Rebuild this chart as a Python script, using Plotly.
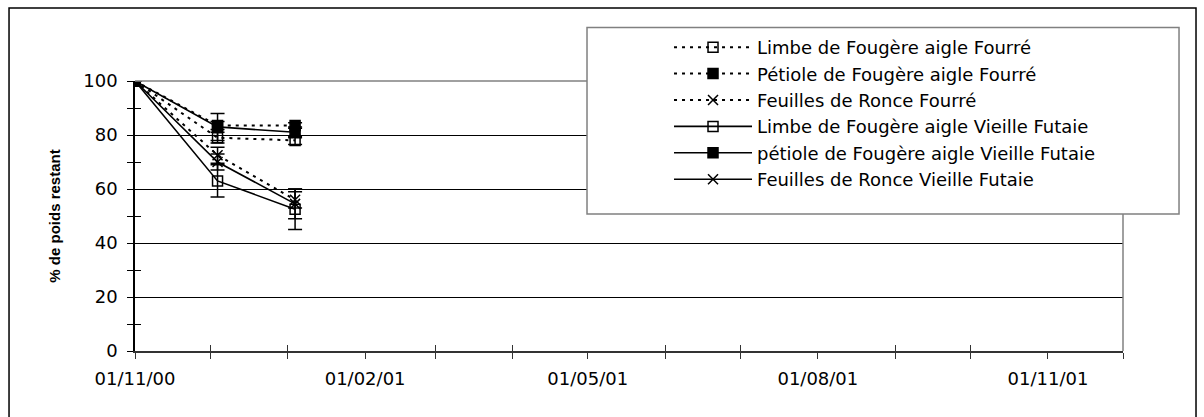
import plotly.graph_objects as go
import pandas as pd

# ---- data ----
dates = ["2000-11-01", "2000-12-04", "2001-01-04"]

series_names = [
    "Limbe de Fougère aigle Fourré",
    "Pétiole de Fougère aigle Fourré",
    "Feuilles de Ronce Fourré",
    "Limbe de Fougère aigle Vieille Futaie",
    "pétiole de Fougère aigle Vieille Futaie",
    "Feuilles de Ronce Vieille Futaie",
]
limbe_fourre = [100, 79, 78]
limbe_fourre_err = [0, 2, 1.5]
petiole_fourre = [100, 83.5, 83.5]
petiole_fourre_err = [0, 1.5, 1]
ronce_fourre = [100, 72.5, 56]
ronce_fourre_err = [0, 3, 3]
limbe_vf = [100, 63, 52.5]
limbe_vf_err = [0, 6, 7.5]
petiole_vf = [100, 83, 81]
petiole_vf_err = [0, 5, 2]
ronce_vf = [100, 70, 54.5]
ronce_vf_err = [0, 3, 5.5]

y_ticks = [0, 20, 40, 60, 80, 100]
x_range = ["2000-11-01", "2001-12-01"]

values = [limbe_fourre, petiole_fourre, ronce_fourre, limbe_vf, petiole_vf, ronce_vf]
errors = [limbe_fourre_err, petiole_fourre_err, ronce_fourre_err,
          limbe_vf_err, petiole_vf_err, ronce_vf_err]
symbols = ["square-open", "square", "x-thin-open", "square-open", "square", "x-thin-open"]
dashes = ["3px,5px", "3px,5px", "3px,5px", "solid", "solid", "solid"]

FONT = "DejaVu Sans, sans-serif"
TITLE_FONT = "Arial, Liberation Sans, sans-serif"

fig = go.Figure()
for name, vals, err, sym, dash in zip(series_names, values, errors, symbols, dashes):
    fig.add_trace(go.Scatter(
        x=dates, y=vals, name=name, mode="lines+markers",
        line=dict(color="black", width=1.6 if dash == "solid" else 2, dash=dash),
        marker=dict(symbol=sym, size=10, color="black",
                    line=dict(color="black", width=1.5)),
        error_y=dict(type="data", array=err, visible=True, color="black",
                     thickness=1.5, width=7),
    ))

# overlay axes for crossing minor ticks
month_ticks = [d for d in pd.date_range("2000-11-01", "2001-12-01", freq="MS")
               if (d.month - 11) % 3 != 0]
fig.add_trace(go.Scatter(x=[x_range[0]], y=[0], xaxis="x2", yaxis="y2",
                         mode="markers", marker=dict(opacity=0), showlegend=False,
                         hoverinfo="skip"))

fig.update_layout(
    width=1204, height=417,
    margin=dict(l=135, r=81, t=81, b=66),
    paper_bgcolor="white", plot_bgcolor="white",
    font=dict(family=FONT, size=18, color="black"),
    showlegend=True,
    legend=dict(
        x=0.5405, y=1.1926, xanchor="left", yanchor="top",
        bgcolor="rgba(0,0,0,0)", borderwidth=0,
        font=dict(family=FONT, size=18, color="black"),
        itemwidth=78, tracegroupgap=0,
    ),
    xaxis=dict(
        type="date", range=x_range, tick0="2000-11-01", dtick="M3",
        tickformat="%d/%m/%y", ticks="outside", ticklen=6, tickwidth=1,
        tickcolor="#333", showline=True, linecolor="#333", linewidth=1.5,
        showgrid=False, zeroline=False, ticklabelstandoff=5,
        minor=dict(dtick="M1", ticks="outside", ticklen=6, tickcolor="#333",
                   showgrid=False),
    ),
    yaxis=dict(
        range=[0, 100], tickvals=y_ticks, ticks="outside", ticklen=6,
        tickcolor="black", showline=True, linecolor="black", linewidth=1.5,
        showgrid=True, gridcolor="black", gridwidth=1, zeroline=False,
        ticklabelstandoff=6,
        title=dict(text="% de poids restant", standoff=19,
                   font=dict(family=TITLE_FONT, size=15, weight="bold")),
        minor=dict(dtick=10, tick0=0, ticks="outside", ticklen=6,
                   tickcolor="black", showgrid=False),
    ),
    xaxis2=dict(
        type="date", range=x_range, overlaying="x", tickvals=month_ticks,
        ticks="inside", ticklen=6, tickcolor="#333", showticklabels=False,
        showgrid=False, zeroline=False, showline=False,
    ),
    yaxis2=dict(
        range=[0, 100], overlaying="y", tickvals=[10, 30, 50, 70, 90],
        ticks="inside", ticklen=6, tickcolor="black", showticklabels=False,
        showgrid=False, zeroline=False, showline=False,
    ),
    shapes=[
        # plot area border (top and right, gray)
        dict(type="line", xref="paper", yref="paper", x0=0, x1=1, y0=1, y1=1,
             line=dict(color="#808080", width=1.5)),
        dict(type="line", xref="paper", yref="paper", x0=1, x1=1, y0=0, y1=1,
             line=dict(color="#808080", width=1.5)),
        # legend box
        dict(type="rect", xref="paper", yref="paper", layer="above",
             x0=0.4575, x1=1.0567, y0=0.507, y1=1.198,
             line=dict(color="#808080", width=1.5), fillcolor="white"),
        # outer chart frame
        dict(type="rect", xref="paper", yref="paper",
             x0=-0.1275, x1=1.0739, y0=-0.26, y1=1.2707,
             line=dict(color="black", width=1.5), fillcolor="rgba(0,0,0,0)"),
    ],
)

fig.write_html("out.html")
